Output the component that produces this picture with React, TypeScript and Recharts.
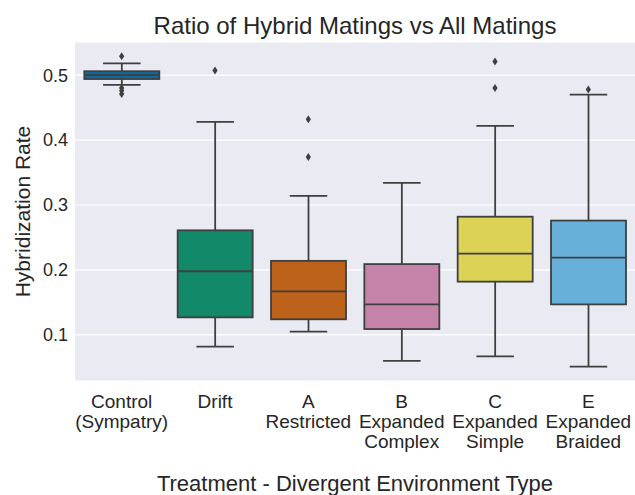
import {
  Bar,
  CartesianGrid,
  ComposedChart,
  Scatter,
  XAxis,
  YAxis,
} from "recharts";

const categories = [
  "Control\n(Sympatry)",
  "Drift",
  "A\nRestricted",
  "B\nExpanded\nComplex",
  "C\nExpanded\nSimple",
  "E\nExpanded\nBraided",
];
const whiskerLow = [0.485, 0.082, 0.105, 0.06, 0.067, 0.051];
const q1 = [0.494, 0.127, 0.124, 0.109, 0.182, 0.147];
const medians = [0.5, 0.198, 0.167, 0.147, 0.225, 0.219];
const q3 = [0.506, 0.261, 0.214, 0.209, 0.282, 0.276];
const whiskerHigh = [0.518, 0.428, 0.314, 0.334, 0.422, 0.47];
const boxColors = ["#13689b", "#128a6a", "#bd621a", "#c583a9", "#dcd356", "#67b0da"];

const outlierCategory = [0, 0, 0, 0, 1, 2, 2, 4, 4, 5];
const outlierValues = [0.529, 0.48, 0.476, 0.471, 0.507, 0.432, 0.374, 0.521, 0.48, 0.478];

const yTicks = [0.1, 0.2, 0.3, 0.4, 0.5];

const LINE = "#3f3f3f";
const TEXT = "#262626";

const boxData = categories.map((name, i) => ({
  name,
  range: [whiskerLow[i], whiskerHigh[i]],
  low: whiskerLow[i],
  q1: q1[i],
  median: medians[i],
  q3: q3[i],
  high: whiskerHigh[i],
  color: boxColors[i],
}));

const outlierData = outlierValues.map((value, i) => ({
  name: categories[outlierCategory[i]],
  value,
}));

function BoxShape(props: any) {
  const { x, y, width, height, payload } = props;
  const top = Math.min(y, y + height);
  const span = Math.abs(height);
  const k = span / (payload.high - payload.low);
  const py = (v: number) => top + (payload.high - v) * k;
  const cx = x + width / 2;
  const cap = width / 4;
  return (
    <g stroke={LINE} strokeWidth={1.8}>
      <line x1={cx} x2={cx} y1={py(payload.high)} y2={py(payload.q3)} />
      <line x1={cx} x2={cx} y1={py(payload.q1)} y2={py(payload.low)} />
      <line x1={cx - cap} x2={cx + cap} y1={py(payload.high)} y2={py(payload.high)} />
      <line x1={cx - cap} x2={cx + cap} y1={py(payload.low)} y2={py(payload.low)} />
      <rect
        x={x}
        y={py(payload.q3)}
        width={width}
        height={py(payload.q1) - py(payload.q3)}
        fill={payload.color}
      />
      <line x1={x} x2={x + width} y1={py(payload.median)} y2={py(payload.median)} />
    </g>
  );
}

function Diamond(props: any) {
  const { cx, cy } = props;
  return (
    <polygon
      points={`${cx},${cy - 4} ${cx + 2.6},${cy} ${cx},${cy + 4} ${cx - 2.6},${cy}`}
      fill={LINE}
    />
  );
}

function CategoryTick(props: any) {
  const { x, y, payload } = props;
  const lines = String(payload.value).split("\n");
  return (
    <text x={x} y={y + 25} textAnchor="middle" fill={TEXT} fontSize={19}>
      {lines.map((line, i) => (
        <tspan key={i} x={x} dy={i === 0 ? 0 : 20}>
          {line}
        </tspan>
      ))}
    </text>
  );
}

export default function App() {
  return (
    <div
      style={{
        position: "absolute",
        left: 0,
        top: 0,
        width: 635,
        height: 495,
        background: "#fff",
        fontFamily: '"Liberation Sans", Arial, sans-serif',
      }}
    >
      <svg
        width={635}
        height={40}
        style={{ position: "absolute", left: 0, top: 0 }}
      >
        <text x={355} y={34} textAnchor="middle" fontSize={24} fill={TEXT}>
          Ratio of Hybrid Matings vs All Matings
        </text>
      </svg>
      <ComposedChart
        width={635}
        height={495}
        data={boxData}
        margin={{ top: 42, right: 0, bottom: 0, left: 0 }}
        barCategoryGap="10%"
        style={{ position: "absolute", left: 0, top: 0 }}
      >
        <CartesianGrid
          vertical={false}
          stroke="#ffffff"
          strokeWidth={1.2}
          fill="#eaeaf2"
        />
        <XAxis
          dataKey="name"
          allowDuplicatedCategory={false}
          axisLine={false}
          tickLine={false}
          tickSize={0}
          height={114}
          interval={0}
          tick={<CategoryTick />}
          label={{
            content: ({ viewBox }: any) => (
              <text
                x={viewBox.x + viewBox.width / 2}
                y={viewBox.y + 110}
                textAnchor="middle"
                fontSize={22}
                fill={TEXT}
              >
                Treatment - Divergent Environment Type
              </text>
            ),
          }}
        />
        <YAxis
          type="number"
          domain={[0.029, 0.551]}
          allowDataOverflow
          ticks={yTicks}
          tickFormatter={(v: number) => v.toFixed(1)}
          width={75}
          axisLine={false}
          tickLine={false}
          tickSize={0}
          tickMargin={7}
          tick={{ fill: TEXT, fontSize: 18 }}
          label={{
            content: ({ viewBox }: any) => {
              const cy = viewBox.y + viewBox.height / 2;
              return (
                <text
                  x={30}
                  y={cy}
                  transform={`rotate(-90 30 ${cy})`}
                  textAnchor="middle"
                  fontSize={21}
                  fill={TEXT}
                >
                  Hybridization Rate
                </text>
              );
            },
          }}
        />
        <Bar dataKey="range" shape={<BoxShape />} isAnimationActive={false} />
        <Scatter
          data={outlierData}
          dataKey="value"
          shape={<Diamond />}
          isAnimationActive={false}
        />
      </ComposedChart>
    </div>
  );
}
